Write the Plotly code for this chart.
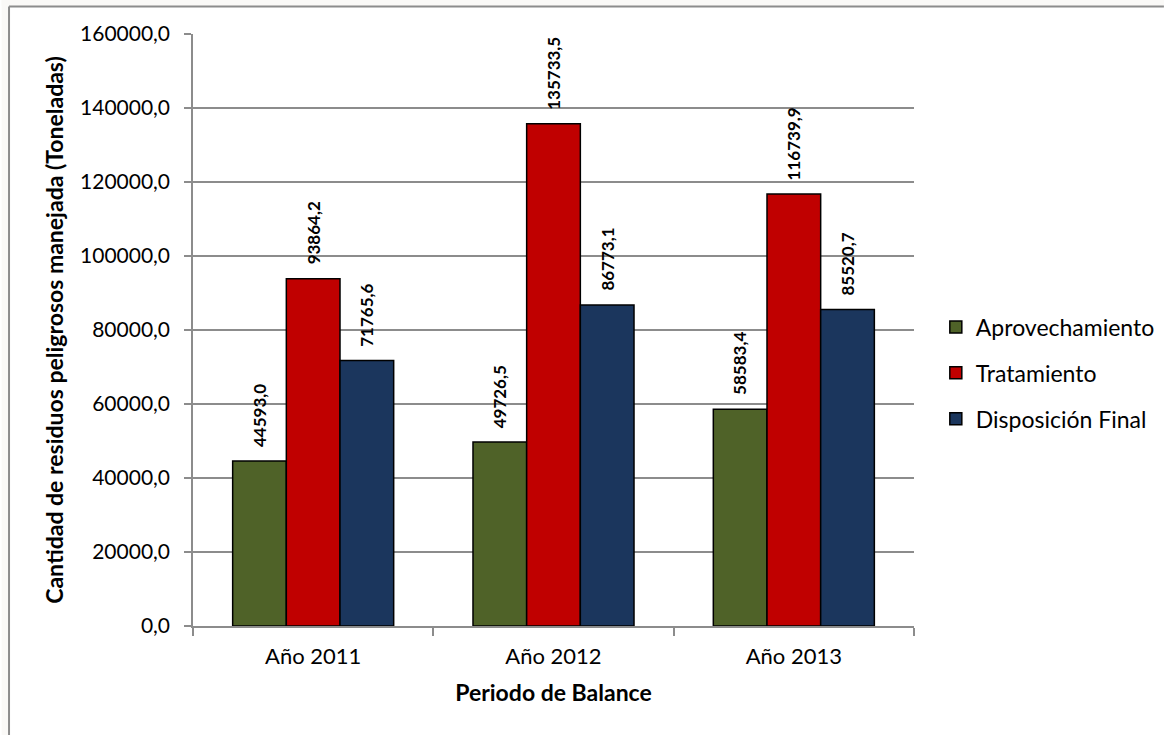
import plotly.graph_objects as go

# Hazardous waste handled per balance period (tonnes)
periodos = ["Año 2011", "Año 2012", "Año 2013"]
aprovechamiento = [44593.0, 49726.5, 58583.4]
tratamiento = [93864.2, 135733.5, 116739.9]
disposicion_final = [71765.6, 86773.1, 85520.7]

series = [
    ("Aprovechamiento", aprovechamiento, "#4F6228"),
    ("Tratamiento", tratamiento, "#C00000"),
    ("Disposición Final", disposicion_final, "#1B365D"),
]

W, H = 1172, 735
L, R, T, B = 193, 252, 34, 109
PW, PH = W - L - R, H - T - B
FONT = "Lato, Carlito, Calibri, sans-serif"
BARGAP = 0.33
n = len(series)
slot = (1 - BARGAP) / n

fig = go.Figure()
annotations = []
for j, (name, vals, color) in enumerate(series):
    fig.add_trace(go.Bar(
        name=name, x=periodos, y=vals,
        marker=dict(color=color, line=dict(color="#000000", width=1.5)),
        legendgroup=name,
    ))
    for i, v in enumerate(vals):
        annotations.append(dict(
            x=i + (j - (n - 1) / 2) * slot, y=v, xref="x", yref="y",
            text=f"{v:.1f}".replace(".", ","), textangle=-90,
            showarrow=False, yanchor="bottom", yshift=12,
            font=dict(family=FONT, size=17, color="#000000", weight="bold"),
        ))

# chart frame: light strip outside, grey border on left and top
shapes = [
    dict(type="rect", xref="paper", yref="paper",
         x0=-L / PW, x1=-(L - 7) / PW, y0=-B / PH, y1=1 + T / PH,
         fillcolor="#FAF9F7", line=dict(width=0), layer="below"),
    dict(type="rect", xref="paper", yref="paper",
         x0=-L / PW, x1=1 + R / PW, y0=1 + (T - 6) / PH, y1=1 + T / PH,
         fillcolor="#FAF9F7", line=dict(width=0), layer="below"),
    dict(type="line", xref="paper", yref="paper",
         x0=-(L - 7.5) / PW, x1=-(L - 7.5) / PW,
         y0=-B / PH, y1=1 + (T - 6.5) / PH,
         line=dict(color="#8C8C8C", width=2)),
    dict(type="line", xref="paper", yref="paper",
         x0=-(L - 7.5) / PW, x1=1 + R / PW,
         y0=1 + (T - 6.5) / PH, y1=1 + (T - 6.5) / PH,
         line=dict(color="#8C8C8C", width=2)),
]

fig.update_layout(
    width=W, height=H,
    margin=dict(l=L, r=R, t=T, b=B),
    paper_bgcolor="#FFFFFF", plot_bgcolor="#FFFFFF",
    separators=",.",
    barmode="group", bargap=BARGAP, bargroupgap=0,
    font=dict(family=FONT, color="#000000"),
    showlegend=True,
    legend=dict(
        x=(942 - L) / PW, y=(626 - 373) / PH,
        xanchor="left", yanchor="middle",
        font=dict(family=FONT, size=23, color="#000000"),
        tracegroupgap=13, bgcolor="rgba(0,0,0,0)",
    ),
    annotations=annotations,
    shapes=shapes,
    xaxis=dict(
        type="category", tickson="boundaries",
        ticks="outside", ticklen=8, tickcolor="#8C8C8C", tickwidth=1.5,
        showline=True, linecolor="#8C8C8C", linewidth=1.5,
        showgrid=False,
        ticklabelstandoff=10,
        tickfont=dict(family=FONT, size=22, color="#000000"),
        title=dict(text="Periodo de Balance", standoff=17,
                   font=dict(family=FONT, size=23, color="#000000", weight="bold")),
    ),
    yaxis=dict(
        range=[0, 160000], dtick=20000, tickformat=".1f",
        ticks="outside", ticklen=7, tickcolor="#8C8C8C", tickwidth=1.5,
        showline=True, linecolor="#8C8C8C", linewidth=1.5,
        showgrid=True, gridcolor="#8C8C8C", gridwidth=1.5,
        zeroline=False,
        ticklabelstandoff=10,
        tickfont=dict(family=FONT, size=21, color="#000000"),
        title=dict(text="Cantidad de residuos peligrosos manejada (Toneladas)", standoff=10,
                   font=dict(family=FONT, size=23, color="#000000", weight="bold")),
    ),
)

fig.write_html("out.html")
